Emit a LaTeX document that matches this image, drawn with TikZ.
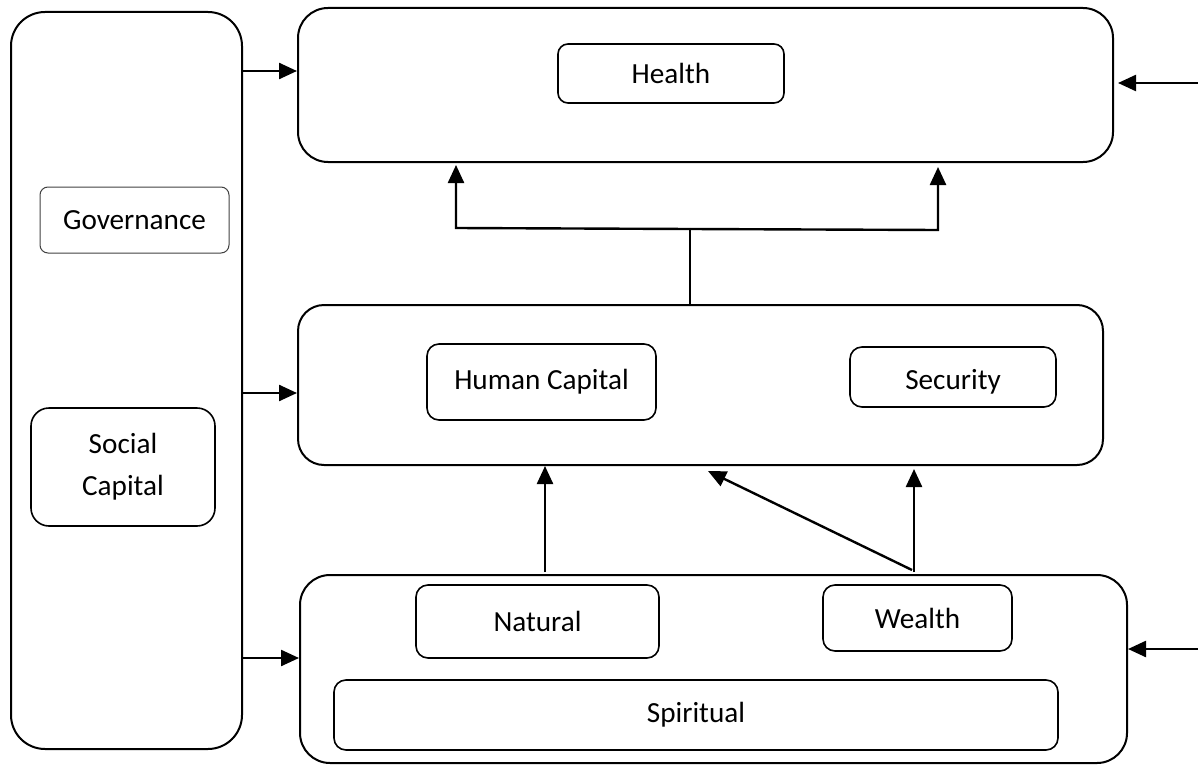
\documentclass[tikz,border=0pt]{standalone}
\usepackage{fontspec}
\setmainfont{Carlito}
\usetikzlibrary{arrows.meta}
\begin{document}
\begin{tikzpicture}[x=0.5pt,y=-0.5pt,
  outer/.style={draw=black,line width=1pt,rounded corners=#1,inner sep=0pt},
  inner/.style={draw=black,line width=0.8pt,rounded corners=#1,inner sep=0pt,align=center,font=\fontsize{14.6}{21}\selectfont},
  arr/.style={line width=1.2pt,-{Triangle[length=9pt,width=8pt]}},
  plain/.style={line width=0.9pt}]
\useasboundingbox (0,0) rectangle (1198,765);
% outer boxes
\node[outer=17pt,minimum width=115.5pt,minimum height=368.5pt] (left) at (126.5,380.5) {};
\node[outer=15pt,minimum width=407.5pt,minimum height=77pt] (top) at (705.5,85) {};
\node[outer=13pt,minimum width=402.5pt,minimum height=80pt] (mid) at (700.5,385) {};
\node[outer=15pt,minimum width=413.5pt,minimum height=94pt] (bot) at (713.5,669) {};
% inner boxes
\node[inner=5pt,minimum width=113pt,minimum height=29.5pt] (health) at (671,73.5) {Health};
\node[inner=4pt,draw=black!75,line width=0.5pt,minimum width=94.5pt,minimum height=33pt] (gov) at (134.5,220) {Governance};
\node[inner=9pt,minimum width=92pt,minimum height=59pt] (social) at (123,467) {Social\\Capital};
\node[inner=6pt,minimum width=114.5pt,minimum height=38pt] (human) at (541.5,382) {Human Capital};
\node[inner=6pt,minimum width=103pt,minimum height=30pt,text height=16pt,text depth=3.5pt] (security) at (953,377) {Security};
\node[inner=6pt,minimum width=121.5pt,minimum height=36.5pt] (natural) at (537.5,621.5) {Natural};
\node[inner=6pt,minimum width=94.5pt,minimum height=33pt] (wealth) at (917.5,618) {Wealth};
\node[inner=6pt,minimum width=362pt,minimum height=35pt] (spiritual) at (696,715) {Spiritual};
% left arrows
\draw[arr] (left.east |- 0,71) -- (top.west |- 0,71);
\draw[arr] (left.east |- 0,393) -- (mid.west |- 0,393);
\draw[arr] (left.east |- 0,658) -- (bot.west |- 0,658);
% right arrows
\coordinate (rt) at (1198,83);
\coordinate (rb) at (1198,649);
\draw[arr] (rt) -- ([xshift=2pt]top.east |- rt);
\draw[arr] (rb) -- (bot.east |- rb);
% fork from middle to top
\coordinate (fk) at (690,229);
\coordinate (fl) at (456,228);
\coordinate (fr) at (938,230);
\draw[plain] ([yshift=-1pt]mid.north -| fk) -- (fk);
\draw[arr,line join=miter] (fk) -- (fl) -- ([yshift=-1pt]top.south -| fl);
\draw[arr,line join=miter] (fk) -- (fr) -- ([yshift=-2pt]top.south -| fr);
% bottom to middle
\coordinate (b1) at (545,572);
\coordinate (b2) at (912,570);
\coordinate (b3) at (914,572);
\coordinate (dt) at (708,471);
\draw[arr] (b1) -- (mid.south -| b1);
\draw[arr] (b2) -- (dt);
\draw[arr] (b3) -- ([yshift=-1.5pt]mid.south -| b3);
\end{tikzpicture}
\end{document}
